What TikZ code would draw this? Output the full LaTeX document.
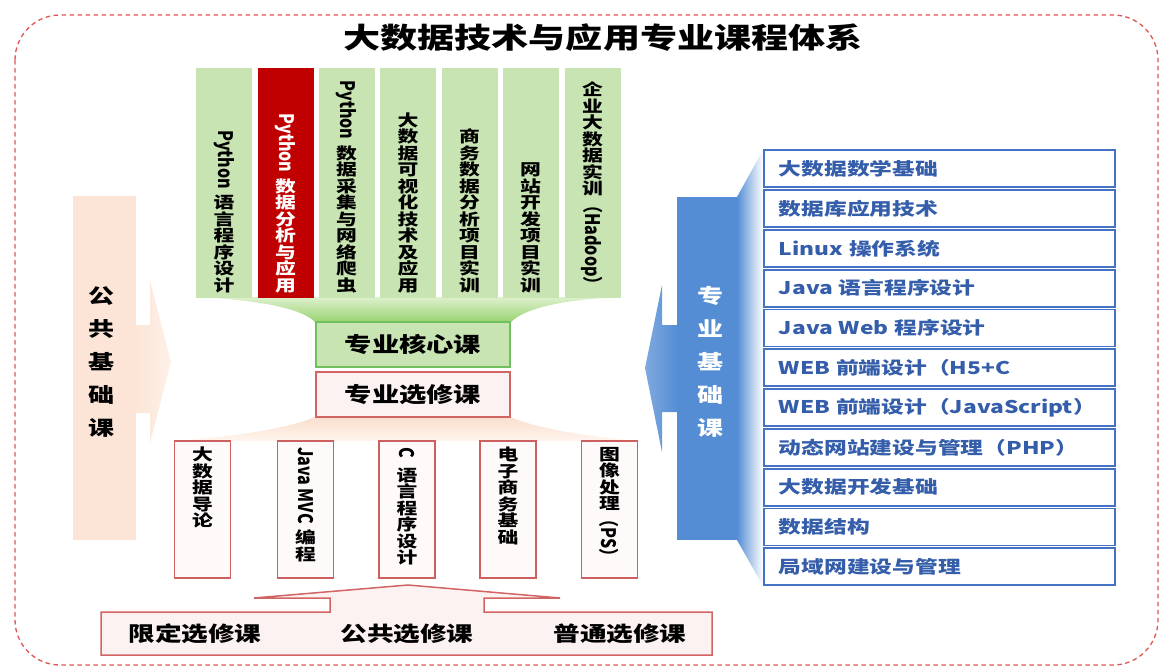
\documentclass[tikz,border=0pt]{standalone}
\usepackage{fontspec}
\setmainfont{Noto Sans CJK SC}[FakeStretch=1.3]
\newfontfamily\latn{Noto Sans CJK SC}
\usepackage{graphicx}
\usetikzlibrary{calc}
\definecolor{colg}{RGB}{200,228,178}
\definecolor{colred}{RGB}{192,0,0}
\definecolor{gborder}{RGB}{112,192,96}
\definecolor{gf1}{RGB}{222,240,205}
\definecolor{gf2}{RGB}{150,210,110}
\definecolor{peach}{RGB}{252,229,214}
\definecolor{pf1}{RGB}{250,222,204}
\definecolor{pf2}{RGB}{255,246,240}
\definecolor{eborder}{RGB}{210,100,100}
\definecolor{efill}{RGB}{253,242,242}
\definecolor{sborder}{RGB}{205,95,95}
\definecolor{sfill}{RGB}{255,250,250}
\definecolor{bblue}{RGB}{84,141,212}
\definecolor{lborder}{RGB}{68,114,196}
\definecolor{ltext}{RGB}{52,93,170}
\definecolor{dashc}{RGB}{225,85,85}
\newcommand\rot[1]{\rotatebox[origin=c]{-90}{\scalebox{1}[1.25]{\latn\bfseries #1}}}
\tikzset{
  col/.style={fill=colg, draw=none, minimum width=56pt, minimum height=230pt, inner sep=0pt},
  coltext/.style={anchor=south, align=center, inner sep=0pt, font=\fontsize{16}{16.5}\selectfont\bfseries},
  boxtext/.style={anchor=north, align=center, inner sep=0pt, font=\fontsize{16}{16.5}\selectfont\bfseries},
  sbox/.style={draw=sborder, fill=sfill, line width=1.5pt, minimum width=56pt, minimum height=137pt, inner sep=0pt},
  midbox/.style={minimum width=194pt, minimum height=45pt, line width=1.5pt, inner sep=0pt, font=\fontsize{21}{24}\selectfont\bfseries},
  row/.style={draw=lborder, fill=white, line width=1.8pt, minimum width=351pt, minimum height=37pt, text width=321pt, align=left, inner xsep=15pt, inner ysep=0pt, anchor=north west, text=ltext, font=\fontsize{17.5}{20}\selectfont\bfseries},
  side/.style={align=center, inner sep=0pt, font=\fontsize{20}{33}\selectfont\bfseries},
  btext/.style={inner sep=0pt, font=\fontsize{20.5}{24}\selectfont\bfseries}
}
\begin{document}
\begin{tikzpicture}[x=1pt,y=-1pt]
\useasboundingbox (0,0) rectangle (1176,672);
\fill[white] (0,0) rectangle (1176,672);
% outer dashed frame
\draw[dashc, line width=1.3pt, dash pattern=on 4.5pt off 3.5pt, rounded corners=45pt] (15,15) rectangle (1158,665);
\node[font=\fontsize{28.5}{30}\selectfont\bfseries] (title) at (603,38) {大数据技术与应用专业课程体系};

% green funnel
\path[top color=gf1, bottom color=gf2] (196,297) .. controls (265,300) and (305,310) .. (316,323) -- (510,323) .. controls (522,310) and (555,300) .. (620,297) -- cycle;
% peach funnel
\path[top color=pf1, bottom color=pf2] (315,417) -- (510,417) .. controls (540,430) and (600,438) .. (640,441) -- (175,441) .. controls (220,438) and (285,430) .. (315,417) -- cycle;

% top columns
\node[col] (c1) at (224,183) {};
\node[col, fill=colred] (c2) at (285.5,183) {};
\node[col] (c3) at (346.5,183) {};
\node[col] (c4) at (408,183) {};
\node[col] (c5) at (469.5,183) {};
\node[col] (c6) at (530.5,183) {};
\node[col] (c7) at (592.5,183) {};
\node[coltext] (t1) at (224,293) {\rot{Python}\\[5pt]语\\言\\程\\序\\设\\计};
\node[coltext, text=white] (t2) at (285.5,293) {\rot{Python}\\[5pt]数\\据\\分\\析\\与\\应\\用};
\node[coltext] (t3) at (346.5,293) {\rot{Python}\\[5pt]数\\据\\采\\集\\与\\网\\络\\爬\\虫};
\node[coltext] (t4) at (408,293) {大\\数\\据\\可\\视\\化\\技\\术\\及\\应\\用};
\node[coltext] (t5) at (469.5,293) {商\\务\\数\\据\\分\\析\\项\\目\\实\\训};
\node[coltext] (t6) at (530.5,293) {网\\站\\开\\发\\项\\目\\实\\训};
\node[coltext] (t7) at (592.5,293) {企\\业\\大\\数\\据\\实\\训\\\rot{（Hadoop）}};

% core and elective boxes
\node[midbox, draw=gborder, fill=colg] (core) at (413,344.5) {专业核心课};
\node[midbox, draw=eborder, fill=efill] (elect) at (413,394.5) {专业选修课};

% small elective boxes
\node[sbox] (s1) at (202.5,509.5) {};
\node[sbox] (s2) at (305.5,509.5) {};
\node[sbox] (s3) at (407,509.5) {};
\node[sbox] (s4) at (508,509.5) {};
\node[sbox] (s5) at (609.5,509.5) {};
\node[boxtext] (u1) at (202.5,447) {大\\数\\据\\导\\论};
\node[boxtext] (u2) at (305.5,447) {\rot{Java MVC}\\[5pt]编\\程};
\node[boxtext] (u3) at (407,447) {\rot{C}\\[5pt]语\\言\\程\\序\\设\\计};
\node[boxtext] (u4) at (508,447) {电\\子\\商\\务\\基\\础};
\node[boxtext] (u5) at (609.5,447) {图\\像\\处\\理\\\rot{（PS）}};

% bottom arrow box
\draw[draw=eborder, fill=efill, line width=1.5pt, line join=miter]
  (101,612) -- (330,612) -- (330,598) -- (254,598) -- (408,585) -- (560,598) -- (484,598) -- (484,612) -- (712,612) -- (712,655) -- (101,655) -- cycle;
\node[btext] (p1) at (195,634) {限定选修课};
\node[btext] (p2) at (407,634) {公共选修课};
\node[btext] (p3) at (620,634) {普通选修课};

% left public basic arrow
\fill[peach] (73,196) rectangle (136,540);
\path[left color=peach, right color=peach!55] (135,325) -- (150,325) -- (150,281) -- (171,362) -- (150,443) -- (150,413) -- (135,413) -- cycle;
\node[side] (pub) at (101,362) {公\\共\\基\\础\\课};

% right professional basic arrow
\path[left color=bblue, right color=white] (737,197) -- (763,150) -- (763,586) -- (737,540) -- cycle;
\fill[bblue] (677,197) rectangle (738,540);
\path[left color=bblue!75, right color=bblue] (645,368) -- (662,285) -- (662,325) -- (678,325) -- (678,412) -- (662,412) -- (662,452) -- cycle;
\node[side, text=white] (prof) at (710,362) {专\\业\\基\\础\\课};

% list
\foreach \t [count=\i] in {大数据数学基础, 数据库应用技术, Linux 操作系统, Java 语言程序设计, Java Web 程序设计, WEB 前端设计（H5+C, WEB 前端设计（JavaScript）, 动态网站建设与管理（PHP）, 大数据开发基础, 数据结构, 局域网建设与管理}
  \node[row] (r\i) at (763,{148+(\i-1)*39.8+1.4}) {\t};
\end{tikzpicture}
\end{document}
